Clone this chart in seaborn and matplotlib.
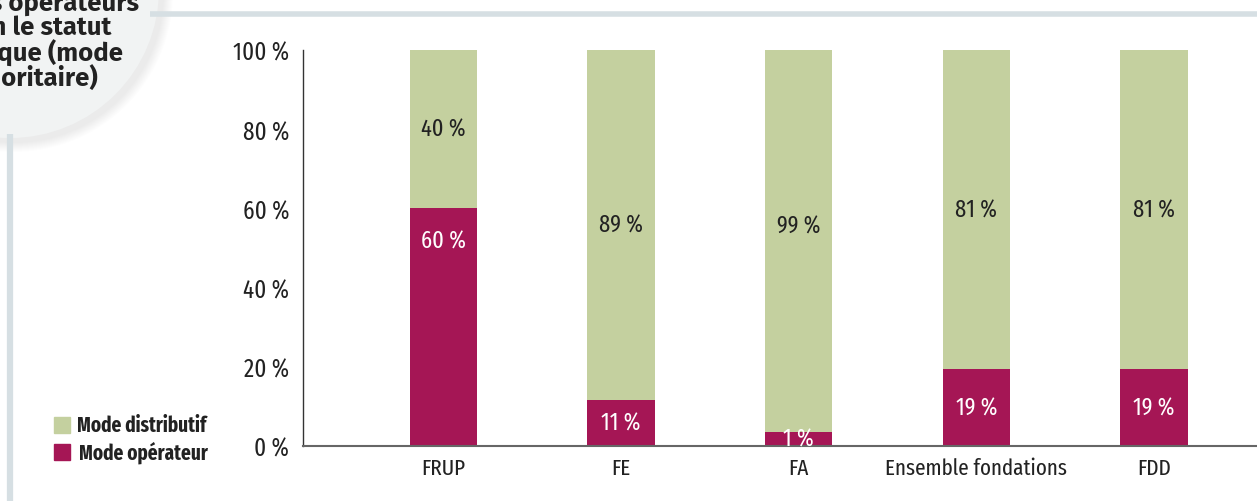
import matplotlib.pyplot as plt
import matplotlib.patches as mpatches
import pandas as pd
import seaborn as sns

# Data
categories = ["FRUP", "FE", "FA", "Ensemble fondations", "FDD"]
operateur = [60, 11.5, 3.5, 19.5, 19.5]          # bar heights as drawn
operateur_labels = ["60 %", "11 %", "1 %", "19 %", "19 %"]
distributif_labels = ["40 %", "89 %", "99 %", "81 %", "81 %"]
yticks = [0, 20, 40, 60, 80, 100]
ytick_labels = ["0 %", "20 %", "40 %", "60 %", "80 %", "100 %"]
title_lines = ["Répartition des opérateurs", "selon le statut", "juridique (mode", "majoritaire)"]

green = "#c4d09f"
magenta = "#a51655"
deco = "#d6dfe3"
narrow = ["Fira Sans Extra Condensed", "DejaVu Sans"]

df = pd.DataFrame({"cat": categories, "op": operateur, "total": [100] * len(categories)})

sns.set_style("white")
W, H = 1257, 502
fig = plt.figure(figsize=(W / 100, H / 100), dpi=100)

# background decoration layer in pixel coords
bg = fig.add_axes([0, 0, 1, 1], zorder=0)
bg.set_xlim(0, W)
bg.set_ylim(H, 0)
bg.axis("off")
bg.plot([150, W], [15, 15], color=deco, lw=4, solid_capstyle="butt")
bg.plot([10, 10], [135, H], color=deco, lw=4.5, solid_capstyle="butt")
for i in range(10):
    bg.add_patch(mpatches.Circle((14, -6), 149 + 10 - i, color="black", alpha=0.006, lw=0))
bg.add_patch(mpatches.Circle((10, -10), 149, facecolor="#f1f3f3", edgecolor="none"))
title_x = [139, 111, 123, 98]
for k, (line, tx) in enumerate(zip(title_lines, title_x)):
    bg.text(tx, 3 + k * 25, line, ha="right", va="center", fontsize=18.5, fontweight="bold",
            color="#222222", family=["Fira Sans", "DejaVu Sans"])

# legend
bg.add_patch(mpatches.Rectangle((54, 418), 16, 16, color=green))
bg.add_patch(mpatches.Rectangle((54, 445), 16, 16, color=magenta))
bg.text(77, 426, "Mode distributif", va="center", fontsize=15, fontweight="bold",
        color="#222222", family=narrow)
bg.text(79, 453, "Mode opérateur", va="center", fontsize=15, fontweight="bold",
        color="#222222", family=narrow)

# main chart
ax = fig.add_axes([303 / W, 1 - 447 / H, (W - 303) / W, 396 / H], zorder=1)
ax.patch.set_alpha(0)
sns.barplot(data=df, x="cat", y="total", color=green, width=0.38, saturation=1, linewidth=0, ax=ax)
sns.barplot(data=df, x="cat", y="op", color=magenta, width=0.38, saturation=1, linewidth=0, ax=ax)

for i, (v, lo, lg) in enumerate(zip(operateur, operateur_labels, distributif_labels)):
    y_op = v - 8.2 if v > 40 else v / 2
    ax.text(i, y_op, lo, ha="center", va="center", fontsize=17.5,
            color="white", family=narrow)
    ax.text(i, max((v + 100) / 2, 55.5), lg, ha="center", va="center", fontsize=17.5,
            color="#222222", family=narrow)

ax.set_xlim(-0.79, len(categories) - 0.42)
ax.set_ylim(0, 100)
ax.set_yticks(yticks)
ax.set_yticklabels(ytick_labels, family=narrow, fontsize=18, color="#222222")
ax.set_xticks(range(len(categories)))
ax.set_xticklabels(categories, family=narrow, fontsize=16.5, color="#222222")
ax.tick_params(axis="y", length=0, pad=10)
ax.tick_params(axis="x", length=0, pad=8)
ax.set_xlabel("")
ax.set_ylabel("")
sns.despine(ax=ax, top=True, right=True)
ax.spines["left"].set_color("#333333")
ax.spines["left"].set_linewidth(1)
ax.spines["bottom"].set_color("#666666")
ax.spines["bottom"].set_linewidth(1.5)

fig.savefig("out.png", dpi=100)
